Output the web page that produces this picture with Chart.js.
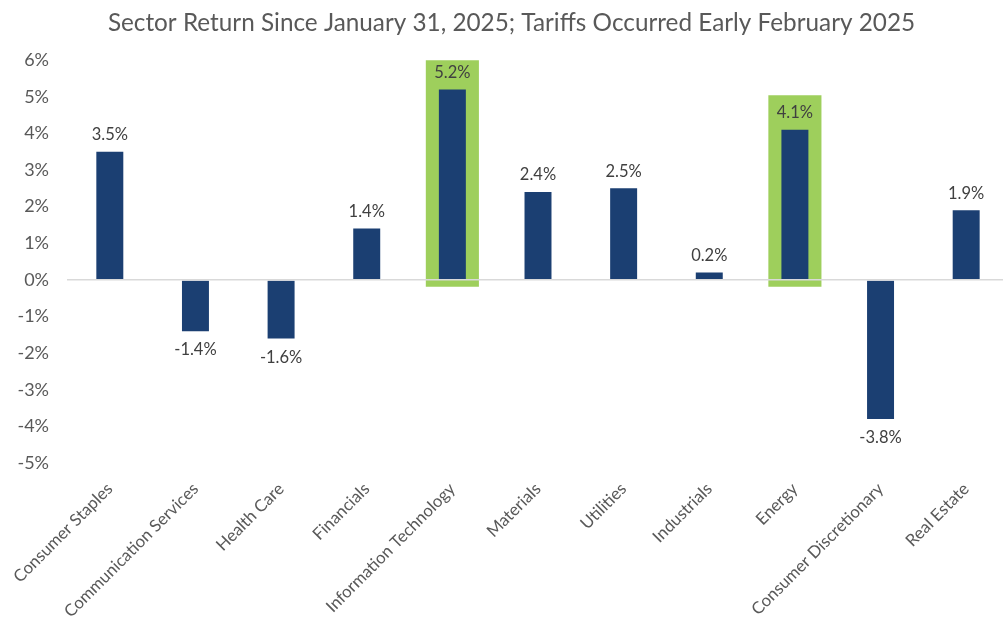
<!doctype html>
<html>
<head>
<title>Sector Return</title>
<script src="https://cdn.jsdelivr.net/npm/chart.js"></script>
<style>
  html, body { margin: 0; padding: 0; overflow: hidden; background: #fff; }
  #wrap { width: 1022px; height: 617px; }
</style>
</head>
<body>
<div id="wrap"><canvas id="chart"></canvas></div>
<script>
// sector names (x axis)
var sectors = ['Consumer Staples', 'Communication Services', 'Health Care', 'Financials',
  'Information Technology', 'Materials', 'Utilities', 'Industrials', 'Energy',
  'Consumer Discretionary', 'Real Estate'];
// return since Jan 31, 2025 (%)
var returns = [3.5, -1.4, -1.6, 1.4, 5.2, 2.4, 2.5, 0.2, 4.1, -3.8, 1.9];
// green highlight boxes behind IT and Energy (% range)
var highlight = [null, null, null, null, [-0.19, 6.19], null, null, null, [-0.19, 5.04], null, null];
var yTicks = [6, 5, 4, 3, 2, 1, 0, -1, -2, -3, -4, -5];

var grey = '#595959';

// draws the % value above / below each bar
var valueLabels = {
  id: 'valueLabels',
  afterDatasetsDraw(chart) {
    var ctx = chart.ctx;
    var meta = chart.getDatasetMeta(0);
    ctx.save();
    ctx.font = '16.5px Lato';
    ctx.fillStyle = '#404040';
    ctx.textAlign = 'center';
    ctx.textBaseline = 'middle';
    meta.data.forEach(function (bar, i) {
      var v = returns[i];
      var y = v >= 0 ? bar.y - 17 : bar.y + 19;
      ctx.fillText(v.toFixed(1) + '%', bar.x, y);
    });
    ctx.restore();
  }
};

new Chart(document.getElementById('chart'), {
  type: 'bar',
  data: {
    labels: sectors,
    datasets: [
      {
        data: returns,
        backgroundColor: '#1B3F72',
        categoryPercentage: 1,
        barPercentage: 0.315,
        grouped: false
      },
      {
        data: highlight,
        backgroundColor: '#9ECF5C',
        categoryPercentage: 1,
        barPercentage: 0.62,
        grouped: false
      }
    ]
  },
  options: {
    responsive: true,
    maintainAspectRatio: false,
    animation: false,
    layout: { padding: { top: 0, right: 13, bottom: 0, left: 14 } },
    plugins: {
      legend: { display: false },
      tooltip: { enabled: false },
      title: {
        display: true,
        text: 'Sector Return Since January 31, 2025; Tariffs Occurred Early February 2025',
        color: grey,
        font: { family: 'Lato', size: 24.3, weight: 'normal' },
        padding: { top: 9, bottom: 22 }
      }
    },
    scales: {
      x: {
        afterFit: function (s) { s.height = 154; },
        grid: { display: false },
        border: { display: false },
        ticks: {
          color: grey,
          font: { family: 'Lato', size: 16.8 },
          minRotation: 45,
          maxRotation: 45,
          autoSkip: false,
          padding: 8
        }
      },
      y: {
        min: -5,
        max: 6,
        afterFit: function (s) { s.width = 53; },
        afterBuildTicks: function (s) { s.ticks = yTicks.map(function (v) { return { value: v }; }); },
        border: { display: false },
        grid: {
          z: 1,
          drawTicks: false,
          lineWidth: 1.5,
          color: function (c) { return c.tick && c.tick.value === 0 ? '#D9D9D9' : 'rgba(0,0,0,0)'; }
        },
        ticks: {
          color: grey,
          font: { family: 'Lato', size: 18 },
          padding: 18,
          callback: function (v) { return v + '%'; }
        }
      }
    }
  },
  plugins: [valueLabels]
});
</script>
</body>
</html>
